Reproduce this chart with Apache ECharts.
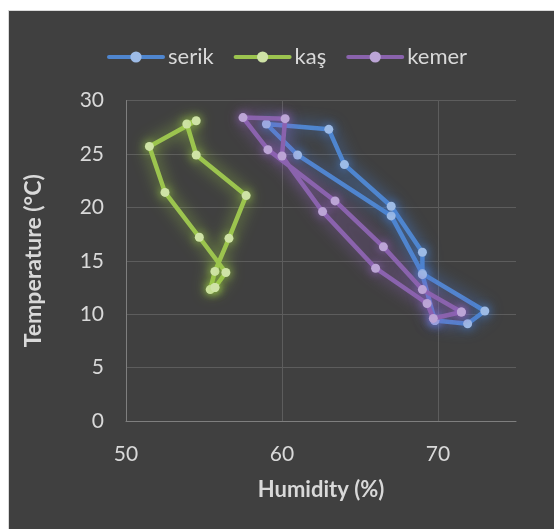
<!DOCTYPE html>
<html>
<head>
<meta charset="utf-8">
<script src="https://cdn.jsdelivr.net/npm/echarts@6/dist/echarts.min.js"></script>
<style>
html,body{margin:0;padding:0;background:#fff;width:554px;height:529px;overflow:hidden;}
#frame{position:absolute;left:8px;top:10px;width:546px;height:519px;background:#d9d9d9;}
#chart{position:absolute;left:9px;top:11px;width:545px;height:518px;background:#404040;}
</style>
</head>
<body>
<div id="frame"></div>
<div id="chart"></div>
<script>
// Data (monthly, Jan..Dec, closing back to Jan)
const seriesNames = ['serik', 'kaş', 'kemer'];
const xTicks = [50, 60, 70];
const yTicks = [0, 5, 10, 15, 20, 25, 30];

const serikHumidity = [69.8, 71.9, 73.0, 69.0, 67.0, 61.0, 59.0, 63.0, 64.0, 67.0, 69.0, 69.0, 69.8];
const serikTemp     = [9.4,  9.1,  10.3, 13.8, 19.2, 24.9, 27.8, 27.3, 24.0, 20.1, 15.8, 13.7, 9.4];

const kasHumidity = [55.7, 55.4, 55.7, 56.6, 57.7, 54.5, 53.9, 54.5, 51.5, 52.5, 54.7, 56.4, 55.7];
const kasTemp     = [12.5, 12.3, 14.0, 17.1, 21.1, 24.9, 27.8, 28.1, 25.7, 21.4, 17.2, 13.9, 12.5];

const kemerHumidity = [71.5, 69.7, 69.3, 66.0, 62.6, 60.0, 60.2, 57.5, 59.1, 63.4, 66.5, 69.0, 71.5];
const kemerTemp     = [10.2, 9.6,  11.0, 14.3, 19.6, 24.8, 28.3, 28.4, 25.4, 20.6, 16.3, 12.3, 10.2];

function pairs(xs, ys){ return xs.map((x,i)=>[x, ys[i]]); }

const lineColors = ['#4f86cf', '#9cc44f', '#8a63ad'];
const markColors = ['#9dbbe6', '#cfe3a6', '#bca5d6'];
const glowColors = ['rgba(70,130,220,0.85)', 'rgba(160,210,70,0.85)', 'rgba(150,100,200,0.85)'];
const allData = [pairs(serikHumidity, serikTemp), pairs(kasHumidity, kasTemp), pairs(kemerHumidity, kemerTemp)];

const chart = echarts.init(document.getElementById('chart'), null, {renderer:'canvas'});
const FONT = 'Lato, "Open Sans", sans-serif';
chart.setOption({
  backgroundColor: '#404040',
  animation: false,
  legend: {
    top: 30,
    left: 93,
    itemWidth: 54,
    itemHeight: 14,
    itemGap: 20,
    textStyle: {color: '#d9d9d9', fontSize: 22, fontFamily: FONT},
    lineStyle: {width: 4, shadowBlur: 0},
    itemStyle: {shadowBlur: 0},
    data: seriesNames
  },
  grid: {left: 117, right: 38, top: 89.5, bottom: 108, containLabel: false},
  xAxis: {
    type: 'value', min: 50, max: 75, interval: 10,
    name: 'Humidity (%)', nameLocation: 'middle', nameGap: 58,
    nameTextStyle: {color: '#d9d9d9', fontSize: 22, fontWeight: 'bold', fontFamily: FONT},
    axisLine: {show: true, lineStyle: {color: '#7f7f7f', width: 1}},
    axisTick: {show: false},
    axisLabel: {color: '#d9d9d9', fontSize: 21, fontFamily: FONT, margin: 23,
      showMaxLabel: false, formatter: v => xTicks.includes(v) ? String(v) : ''},
    splitLine: {show: true, showMaxLine: false, lineStyle: {color: '#5d5d5d', width: 1}}
  },
  yAxis: {
    type: 'value', min: 0, max: 30, interval: 5,
    name: 'Temperature (°C)', nameLocation: 'middle', nameGap: 81, nameRotate: 90,
    nameTextStyle: {color: '#d9d9d9', fontSize: 23, fontWeight: 'bold', fontFamily: FONT},
    axisLine: {show: true, lineStyle: {color: '#7f7f7f', width: 1}},
    axisTick: {show: false},
    axisLabel: {color: '#d9d9d9', fontSize: 21, fontFamily: FONT, margin: 22,
      formatter: v => yTicks.includes(v) ? String(v) : ''},
    splitLine: {show: true, lineStyle: {color: '#5d5d5d', width: 1}}
  },
  series: seriesNames.map((n, i) => ({
    name: n,
    type: 'line',
    data: allData[i],
    symbol: 'circle',
    symbolSize: 9,
    showSymbol: true,
    z: 2 + i,
    lineStyle: {color: lineColors[i], width: 4.5, shadowBlur: 16, shadowColor: glowColors[i], cap: 'round', join: 'round'},
    itemStyle: {color: markColors[i], borderWidth: 0, shadowBlur: 10, shadowColor: glowColors[i]},
    emphasis: {disabled: true}
  }))
});
</script>
</body>
</html>
